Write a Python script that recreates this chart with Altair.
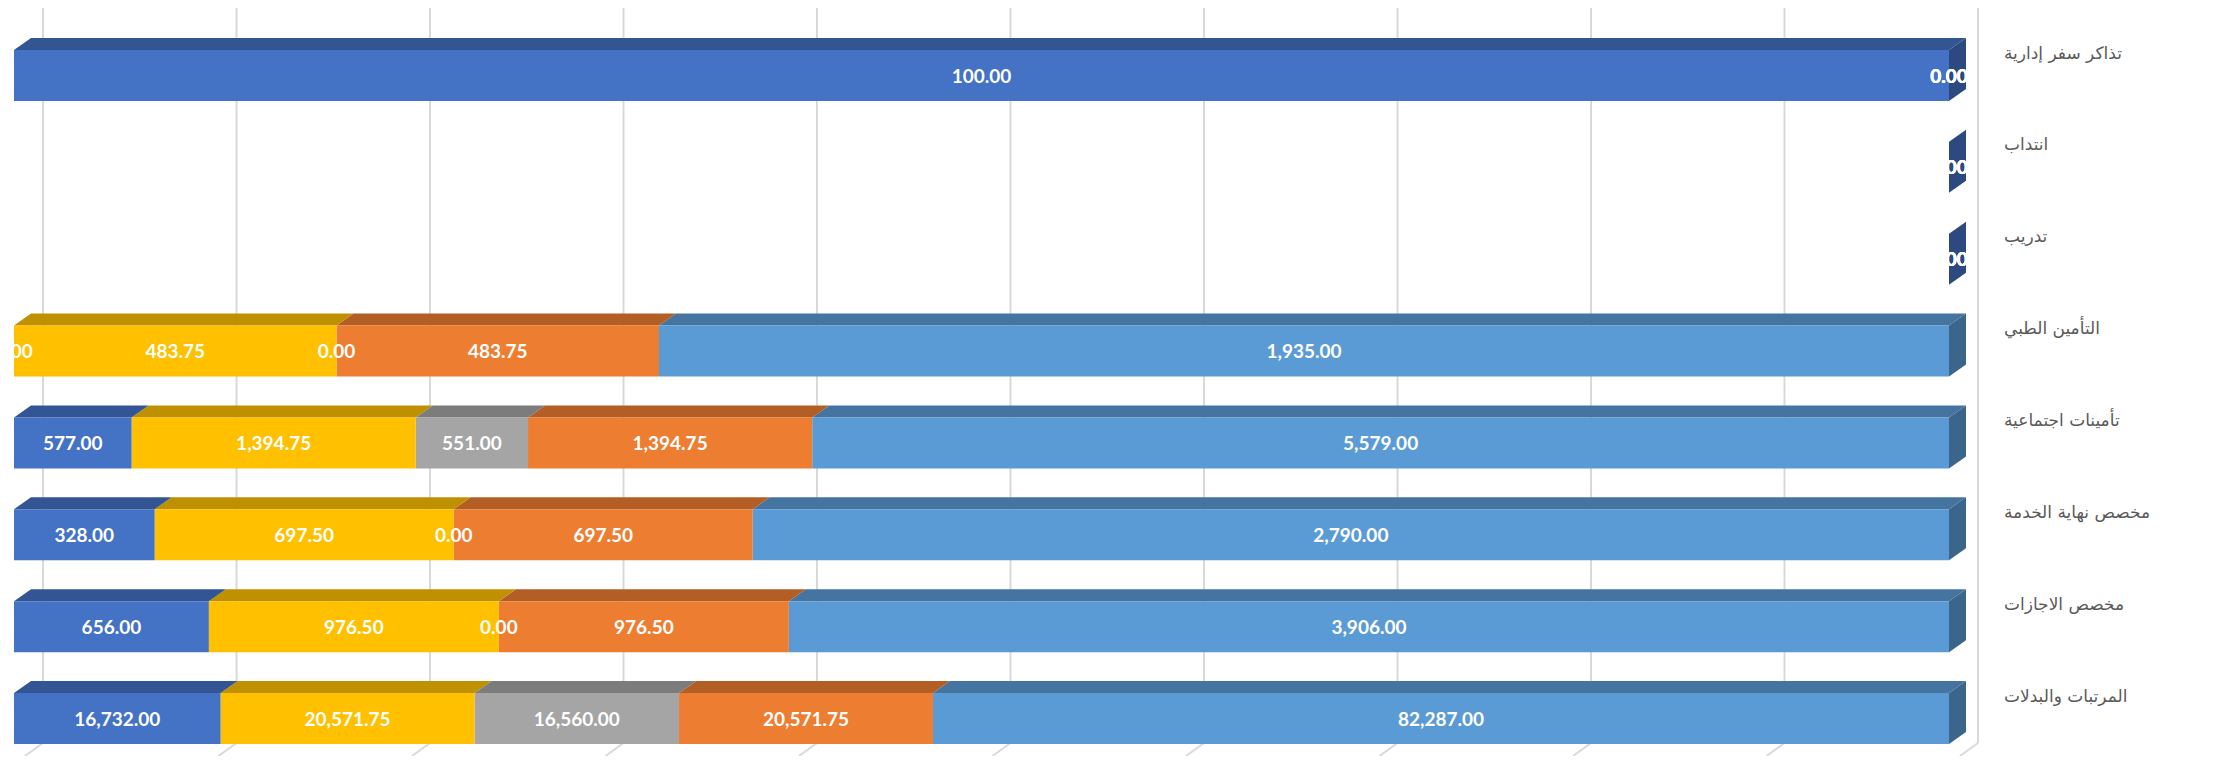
import altair as alt
import pandas as pd

# ---------------- data ----------------
categories = [
    "تذاكر سفر إدارية",
    "انتداب",
    "تدريب",
    "التأمين الطبي",
    "تأمينات اجتماعية",
    "مخصص  نهاية الخدمة",
    "مخصص الاجازات",
    "المرتبات والبدلات",
]
series_names = [
    "الاعتماد السنوي",
    "اعتماد الربع الأول",
    "المنصرف الربع الأول",
    "اعتماد الربع الثاني",
    "المنصرف الربع الثاني",
]
annual = [0, 0, 0, 1935.00, 5579.00, 2790.00, 3906.00, 82287.00]
quarter_a = [0, 0, 0, 483.75, 1394.75, 697.50, 976.50, 20571.75]
spent_a = [0, 0, 0, 0, 551.00, 0, 0, 16560.00]
quarter_b = [0, 0, 0, 483.75, 1394.75, 697.50, 976.50, 20571.75]
spent_b = [100.00, 0, 0, 0, 577.00, 328.00, 656.00, 16732.00]
grid_ticks = [0.0, 0.1, 0.2, 0.3, 0.4, 0.5, 0.6, 0.7, 0.8, 0.9, 1.0]

# ---------------- styles ----------------
front_colors = ["#5B9BD5", "#ED7D31", "#A5A5A5", "#FFC000", "#4472C4"]
top_colors = ["#44749F", "#B25E25", "#7C7C7C", "#BF9000", "#335593"]
side_colors = ["#3B658A", "#9A5120", "#6B6B6B", "#A67D00", "#2C4A7F"]
GRID_COLOR = "#D9D9D9"

# ---------------- layout (pixels inside the plot) ----------------
W, H = 2210, 748
X_ZERO, X_FULL = 1941, 6          # 0% (right) and 100% (left) of the front faces
Y_FIRST, Y_LAST = 67.5, 710.5     # centre of first and last row
N = len(categories)
PX_X = X_ZERO - X_FULL
ROW_PX = (Y_LAST - Y_FIRST) / (N - 1)
HALF = 25.5 / ROW_PX              # half bar thickness (rows)
DEPTH_X = -17 / PX_X              # 3-D depth, 17px to the right
DEPTH_Y = 12 / ROW_PX             # 3-D depth, 12px up
WALL_X = -29 / PX_X               # back wall offset
FLOOR_TOP = 735
FLOOR_X = ((H - FLOOR_TOP) / 0.72) / PX_X

x_scale = alt.Scale(domain=[0, 1], range=[X_ZERO, X_FULL], nice=False, zero=False)
y_scale = alt.Scale(domain=[0, N - 1], range=[Y_FIRST, Y_LAST], nice=False, zero=False)

records = []
for s, (name, vals) in enumerate(zip(series_names, [annual, quarter_a, spent_a, quarter_b, spent_b])):
    for r, (cat, v) in enumerate(zip(categories, vals)):
        records.append({"category": cat, "row": r, "series": name, "sidx": s, "value": v})
df = pd.DataFrame(records)
grid_df = pd.DataFrame({"tick": grid_ticks})
cat_df = pd.DataFrame({"category": categories, "row": list(range(N))})

# ---------------- back wall grid + floor lines ----------------
grid = alt.Chart(grid_df).transform_calculate(
    gx=f"datum.tick + {WALL_X}"
).mark_rule(color=GRID_COLOR, strokeWidth=2).encode(
    x=alt.X("gx:Q", scale=x_scale, axis=None),
    y=alt.value(0),
    y2=alt.value(FLOOR_TOP),
)
floor = alt.Chart(grid_df).transform_calculate(
    gx=f"datum.tick + {WALL_X}", fx=f"datum.tick + {WALL_X + FLOOR_X}"
).mark_rule(color=GRID_COLOR, strokeWidth=2).encode(
    x=alt.X("gx:Q", scale=x_scale, axis=None),
    x2="fx:Q",
    y=alt.value(FLOOR_TOP),
    y2=alt.value(H),
)

# ---------------- 100% stacked bars ----------------
base = alt.Chart(df).transform_joinaggregate(
    total="sum(value)", groupby=["category"]
).transform_calculate(
    pct="datum.total > 0 ? datum.value / datum.total : 0"
).transform_window(
    p1="sum(pct)", sort=[alt.SortField("sidx", order="ascending")],
    groupby=["category"], frame=[None, 0]
).transform_calculate(
    p0="datum.p1 - datum.pct",
    mid="datum.p1 - datum.pct / 2",
    yt=f"datum.row - {HALF}",
    yb=f"datum.row + {HALF}",
)

color_front = alt.Color("series:N", scale=alt.Scale(domain=series_names, range=front_colors), legend=None)
color_top = alt.Color("series:N", scale=alt.Scale(domain=series_names, range=top_colors), legend=None)
color_side = alt.Color("series:N", scale=alt.Scale(domain=series_names, range=side_colors), legend=None)

front = base.mark_rect().encode(
    x=alt.X("p0:Q", scale=x_scale, axis=None, stack=None),
    x2="p1:Q",
    y=alt.Y("yt:Q", scale=y_scale, axis=None, stack=None),
    y2="yb:Q",
    color=color_front,
)

top = base.transform_calculate(
    front_y="datum.yt", back_y=f"datum.yt - {DEPTH_Y}"
).transform_fold(
    ["front_y", "back_y"], as_=["edge", "ty"]
).transform_calculate(
    tx0=f"datum.edge == 'front_y' ? datum.p0 : datum.p0 + {DEPTH_X}",
    tx1=f"datum.edge == 'front_y' ? datum.p1 : datum.p1 + {DEPTH_X}",
).mark_area(orient="horizontal").encode(
    y=alt.Y("ty:Q", scale=y_scale, axis=None, stack=None),
    x=alt.X("tx0:Q", scale=x_scale, axis=None, stack=None),
    x2="tx1:Q",
    color=color_top,
    detail="category:N",
)

side = base.transform_filter(
    "datum.p0 < 1e-9"
).transform_joinaggregate(
    top_sidx="max(sidx)", groupby=["category"]
).transform_filter(
    "datum.sidx == datum.top_sidx"
).transform_calculate(
    front_x="datum.p0", back_x=f"datum.p0 + {DEPTH_X}"
).transform_fold(
    ["front_x", "back_x"], as_=["edge", "sx"]
).transform_calculate(
    sy0=f"datum.edge == 'front_x' ? datum.yt : datum.yt - {DEPTH_Y}",
    sy1=f"datum.edge == 'front_x' ? datum.yb : datum.yb - {DEPTH_Y}",
).mark_area(orient="vertical").encode(
    x=alt.X("sx:Q", scale=x_scale, axis=None, stack=None),
    y=alt.Y("sy0:Q", scale=y_scale, axis=None, stack=None),
    y2="sy1:Q",
    color=color_side,
    detail="category:N",
)

value_labels = base.mark_text(
    font="Lato", fontSize=19, fontWeight="bold", color="white", dy=1
).encode(
    x=alt.X("mid:Q", scale=x_scale, axis=None),
    y=alt.Y("row:Q", scale=y_scale, axis=None),
    text=alt.Text("value:Q", format=",.2f"),
)

cat_labels = alt.Chart(cat_df).transform_calculate(
    lx="0"
).mark_text(
    align="left", baseline="middle", dx=55, dy=-22,
    font="DejaVu Sans", fontSize=17, color="#595959"
).encode(
    x=alt.X("lx:Q", scale=x_scale, axis=None),
    y=alt.Y("row:Q", scale=y_scale, axis=None),
    text="category:N",
)

chart = alt.layer(
    grid, floor, side, top, front, value_labels, cat_labels
).resolve_scale(
    color="independent"
).properties(
    width=W, height=H, padding=0,
    autosize=alt.AutoSizeParams(type="none"),
    background="white",
).configure_view(stroke=None)

chart.save("out.html", embed_options={"renderer": "svg", "actions": False})
